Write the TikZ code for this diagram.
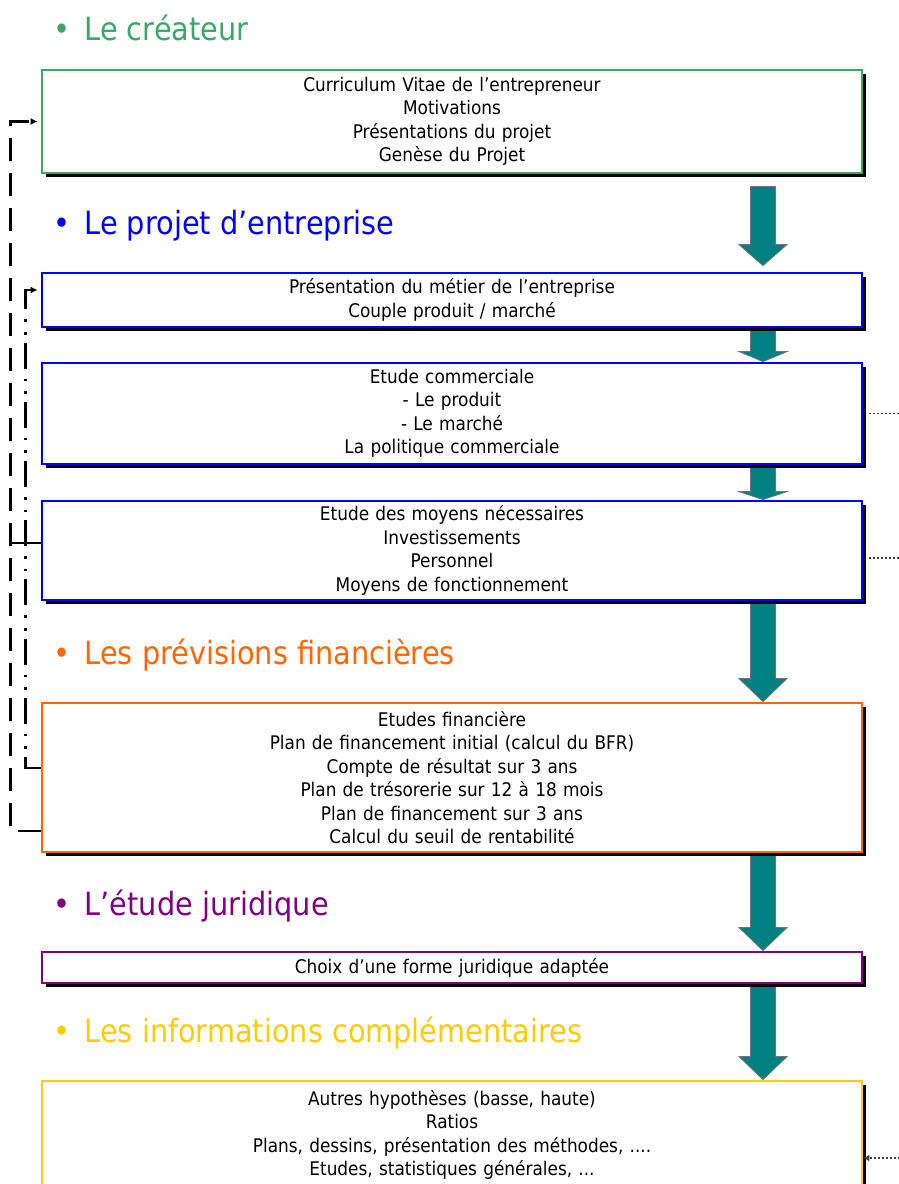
\documentclass[tikz,border=0pt]{standalone}
\usepackage{fontspec}
\setmainfont{DejaVu Sans Condensed}
\usetikzlibrary{calc}
\usetikzlibrary{shadows}
\usetikzlibrary{backgrounds}
\usetikzlibrary{arrows.meta}
\definecolor{vert}{RGB}{60,165,105}
\definecolor{bleu}{RGB}{0,0,255}
\definecolor{orangefonce}{RGB}{255,102,0}
\definecolor{pourpre}{RGB}{128,0,128}
\definecolor{jaune}{RGB}{255,204,0}
\definecolor{sarcelle}{RGB}{0,128,128}
\tikzstyle{boite}=[rectangle,line width=2.8,fill=white,minimum width=820,text width=810,align=center,inner sep=0mm,font=\fontsize{18.8}{23.5}\selectfont,drop shadow={shadow xshift=3.5pt,shadow yshift=-3.5pt,opacity=1,fill=black}]
\tikzstyle{titre}=[anchor=west,inner sep=0mm,font=\fontsize{32}{38}\selectfont]
\tikzstyle{fleche}=[fill=sarcelle,draw=black!55,line width=0.8]
\tikzstyle{tiret}=[draw=black,line width=2.4,dash pattern=on 23pt off 12pt]
\tikzstyle{tiretpoint}=[draw=black,line width=2.6,dash pattern=on 26pt off 8pt on 2.6pt off 10pt on 2.6pt off 10pt]
\tikzstyle{pointille}=[line width=1.6,black!75,dash pattern=on 2pt off 2pt]
% grosse fleche verticale entre deux boites (#5 = longueur de la pointe)
\newcommand\fleche[5]{%
  \draw[fleche] ($(#1)+(298.5,#2)$) -- ($(#3)+(298.5,#4-#5)$) -- ($(#3)+(287,#4-#5)$)
    -- ($(#3)+(311,#4)$) -- ($(#3)+(335,#4-#5)$) -- ($(#3)+(323.5,#4-#5)$)
    -- ($(#1)+(323.5,#2)$) -- cycle;}

\begin{document}
\begin{tikzpicture}[x=1pt,y=-1pt]
  \useasboundingbox (0,0) rectangle (899,1184);
  % titres
  \node[titre,text=vert] (t1) at (53,28) {•\, Le créateur};
  \node[titre,text=bleu] (t2) at (53,226) {•\, Le projet d’entreprise};
  \node[titre,text=orangefonce] (t3) at (53,655) {•\, Les prévisions financières};
  \node[titre,text=pourpre] (t4) at (53,906) {•\, L’étude juridique};
  \node[titre,text=jaune] (t5) at (53,1033) {•\, Les informations complémentaires};
  % boites
  \node[boite,draw=vert,minimum height=103] (b1) at (452,121.5)
    {Curriculum Vitae de l’entrepreneur\\Motivations\\Présentations du projet\\Genèse du Projet};
  \node[boite,draw=bleu,minimum height=54] (b2) at (452,300)
    {Présentation du métier de l’entreprise\\Couple produit / marché};
  \node[boite,draw=bleu,minimum height=101] (b3) at (452,413.5)
    {Etude commerciale\\- Le produit\\- Le marché\\La politique commerciale};
  \node[boite,draw=bleu,minimum height=99] (b4) at (452,550.5)
    {Etude des moyens nécessaires\\Investissements\\Personnel\\Moyens de fonctionnement};
  \node[boite,draw=orangefonce,minimum height=149] (b5) at (452,777.5)
    {Etudes financière\\Plan de financement initial (calcul du BFR)\\Compte de résultat sur 3 ans\\Plan de trésorerie sur 12 à 18 mois\\Plan de financement sur 3 ans\\Calcul du seuil de rentabilité};
  \node[boite,draw=pourpre,minimum height=31] (b6) at (452,967.5)
    {Choix d’une forme juridique adaptée};
  \node[boite,draw=jaune,minimum height=108] (b7) at (452,1135)
    {Autres hypothèses (basse, haute)\\Ratios\\Plans, dessins, présentation des méthodes, ....\\Etudes, statistiques générales, ...};
  % fleches
  \begin{scope}[on background layer]
    \fleche{b1.south}{12}{b2.north}{-6}{21}
    \fleche{b2.south}{0}{b3.north}{0}{10}
    \fleche{b3.south}{0}{b4.north}{0}{8}
    \fleche{b4.south}{0}{b5.north}{0}{23}
    \fleche{b5.south}{0}{b6.north}{0}{23}
    \fleche{b6.south}{0}{b7.north}{0}{23}
  \end{scope}
  % retours a gauche
  \draw[tiret,-{Latex[length=7,width=7]},shorten >=3] ($(b5.west)+(0,53.5)$) -- ++(-30,0) |- (b1.west);
  \draw[tiretpoint,-{Latex[length=7,width=7]},shorten >=3] ($(b5.west)+(0,-9.5)$) -- ++(-15,0) |- ($(b2.west)+(0,-10)$);
  \coordinate (g4) at ($(b4.west)+(-30,-7.5)$);
  \draw[line width=1.6] (g4) -- ($(b4.west)+(0,-7.5)$);
  % suites a droite
  \coordinate (d3) at ($(b3.east)+(37,0)$);
  \coordinate (d4) at ($(b4.east)+(37,7.5)$);
  \coordinate (d7) at ($(b7.east)+(37,23)$);
  \draw[pointille] ($(b3.east)+(6,0)$) -- (d3);
  \draw[pointille] ($(b4.east)+(6,7.5)$) -- (d4);
  \draw[pointille,-{Latex[length=6,width=7]}] (d7) -- ($(b7.east)+(0,23)$);
\end{tikzpicture}
\end{document}
